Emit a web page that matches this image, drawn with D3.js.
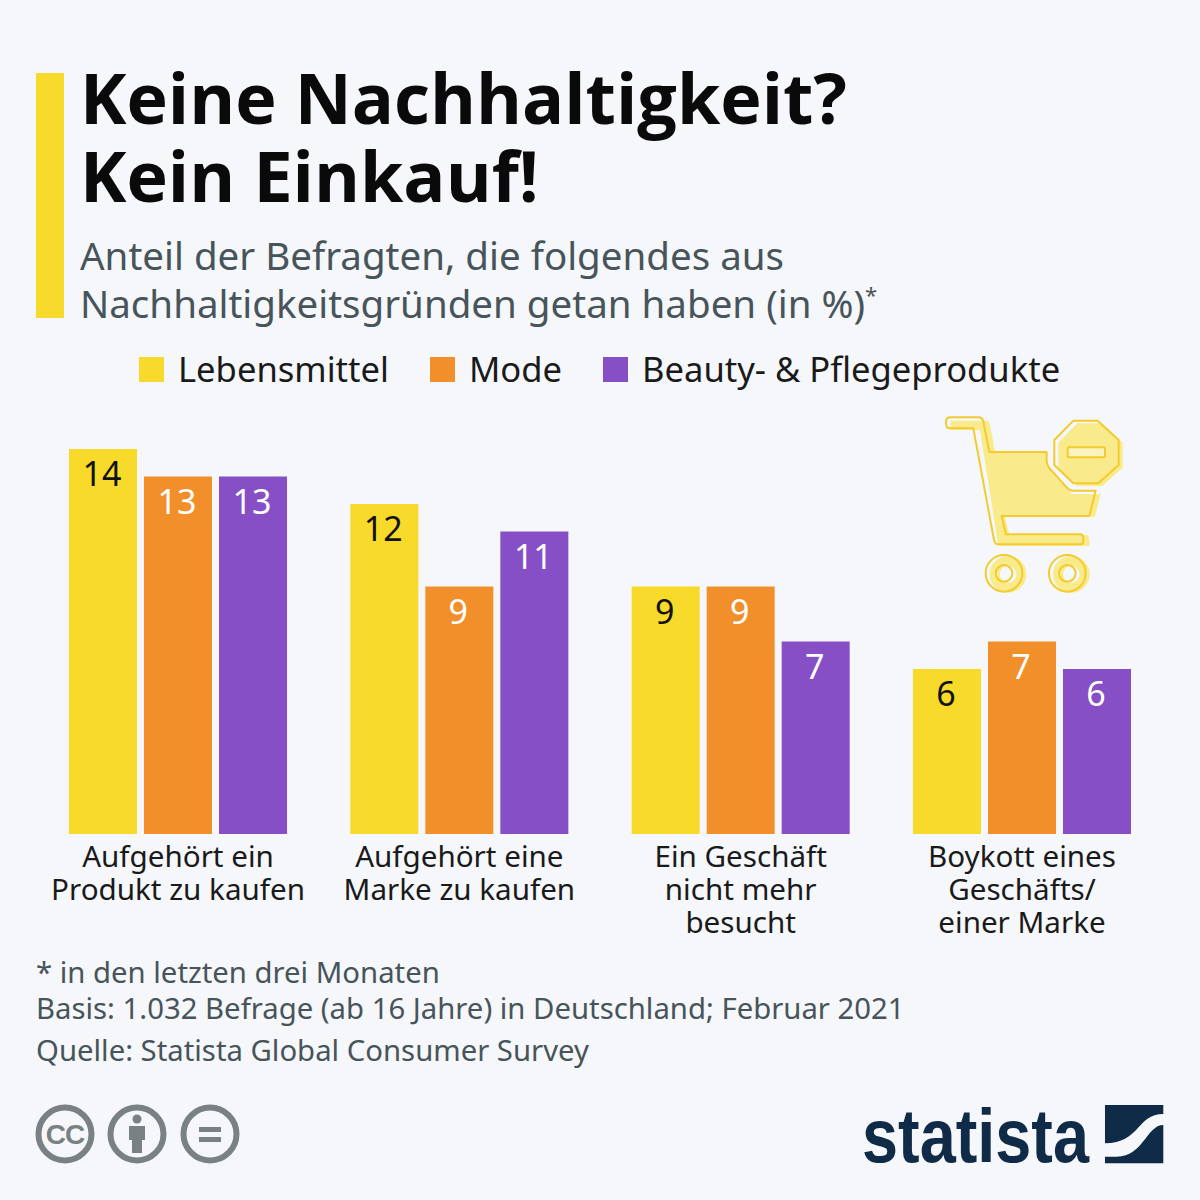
<!DOCTYPE html>
<html lang="de">
<head>
<meta charset="utf-8">
<title>Keine Nachhaltigkeit? Kein Einkauf!</title>
<script src="https://cdn.jsdelivr.net/npm/d3@7"></script>
<style>
  html, body { margin: 0; padding: 0; background: #f5f7fa; }
  svg { display: block; font-family: "Noto Sans", "Open Sans", sans-serif; }
</style>
</head>
<body>
<div id="chart"></div>
<script>
// Data
const categories = [
  "Aufgehört ein|Produkt zu kaufen",
  "Aufgehört eine|Marke zu kaufen",
  "Ein Geschäft|nicht mehr|besucht",
  "Boykott eines|Geschäfts/|einer Marke"
];
const seriesNames = ["Lebensmittel", "Mode", "Beauty- & Pflegeprodukte"];
const lebensmittel = [14, 12, 9, 6];
const mode = [13, 9, 9, 7];
const beauty = [13, 11, 7, 6];
const seriesColors = ["#f8da2b", "#f18f2a", "#864fc6"];
const valueColors = ["#111111", "#ffffff", "#ffffff"];
const legendX = [139, 430, 603];

const titleLines = ["Keine Nachhaltigkeit?", "Kein Einkauf!"];
const footerLines = [
  "* in den letzten drei Monaten",
  "Basis: 1.032 Befrage (ab 16 Jahre) in Deutschland; Februar 2021",
  "Quelle: Statista Global Consumer Survey"
];

const width = 1200, height = 1200;
const bg = "#f5f7fa", greyText = "#47545a", iconGrey = "#7a8183", navy = "#0f2b47";
const allSeries = [lebensmittel, mode, beauty];

const svg = d3.select("#chart").append("svg")
  .attr("width", width).attr("height", height)
  .attr("viewBox", [0, 0, width, height]);

svg.append("rect").attr("width", width).attr("height", height).attr("fill", bg);

// Header
svg.append("rect").attr("x", 36).attr("y", 73).attr("width", 28).attr("height", 245).attr("fill", seriesColors[0]);

svg.selectAll("text.title").data(titleLines).enter().append("text")
  .attr("class", "title")
  .attr("x", 80).attr("y", (d, i) => 124 + i * 78)
  .attr("font-family", "'Open Sans', sans-serif")
  .attr("font-size", 70).attr("font-weight", 700).attr("fill", "#0a0a0a")
  .text(d => d);

svg.append("text").attr("x", 80).attr("y", 270)
  .attr("font-size", 38.5).attr("fill", greyText)
  .text("Anteil der Befragten, die folgendes aus");
const sub2 = svg.append("text").attr("x", 80).attr("y", 318)
  .attr("font-size", 38.5).attr("fill", greyText)
  .text("Nachhaltigkeitsgründen getan haben (in %)");
sub2.append("tspan").attr("font-size", 22).attr("dy", -15).text("*");

// Legend
const legend = svg.selectAll("g.legend").data(seriesNames).enter().append("g")
  .attr("class", "legend")
  .attr("transform", (d, i) => `translate(${legendX[i]},357)`);
legend.append("rect").attr("width", 25).attr("height", 25).attr("fill", (d, i) => seriesColors[i]);
legend.append("text").attr("x", 39).attr("y", 25)
  .attr("font-size", 34.6).attr("fill", "#1a1a1a").text(d => d);

// Scales
const x0 = d3.scaleBand().domain(categories).range([69, 1131]).paddingInner(0.225).paddingOuter(0);
const x1 = d3.scaleBand().domain(seriesNames).range([0, x0.bandwidth()]).paddingInner(0.0933).paddingOuter(0);
const y = d3.scaleLinear().domain([0, 14]).range([834, 449]);

// Bars
const group = svg.selectAll("g.group").data(categories).enter().append("g")
  .attr("class", "group")
  .attr("transform", d => `translate(${x0(d)},0)`);

const cells = group.selectAll("g.cell")
  .data((d, gi) => seriesNames.map((name, si) => ({ name, si, value: allSeries[si][gi] })))
  .enter().append("g").attr("class", "cell");

cells.append("rect")
  .attr("x", d => x1(d.name))
  .attr("y", d => y(d.value))
  .attr("width", x1.bandwidth())
  .attr("height", d => y(0) - y(d.value))
  .attr("fill", d => seriesColors[d.si]);

cells.append("text")
  .attr("x", d => x1(d.name) + x1.bandwidth() / 2 - 1)
  .attr("y", d => y(d.value) + 37)
  .attr("text-anchor", "middle")
  .attr("font-size", 34)
  .attr("fill", d => valueColors[d.si])
  .text(d => d.value);

// Category axis
const axis = svg.append("g").attr("transform", `translate(0,${y(0)})`)
  .call(d3.axisBottom(x0).tickSize(0));
axis.select(".domain").remove();
axis.selectAll(".tick text").each(function (d) {
  const t = d3.select(this).text(null)
    .attr("y", 0).attr("dy", null)
    .attr("font-family", "'Noto Sans', sans-serif")
    .attr("font-size", 29.6).attr("fill", "#1a1a1a");
  d.split("|").forEach((line, i) => {
    t.append("tspan").attr("x", 0).attr("y", 33 + i * 33).text(line);
  });
});

// Footer
const footerY = [983, 1019, 1061];
svg.selectAll("text.footer").data(footerLines).enter().append("text")
  .attr("class", "footer")
  .attr("x", 36).attr("y", (d, i) => footerY[i])
  .attr("font-size", 29.3).attr("fill", greyText)
  .text(d => d);

// Cart icon, drawn in the 3x units it was measured in
const cart = svg.append("g").attr("transform", "translate(930,400) scale(0.3333)");
const paleFill = "#f9eb8b", cartLine = "#f3cb2e";
cart.append("path").attr("fill", paleFill)
  .attr("d", "M62,62 H165 Q178,62 180,75 L195,155 H350 V190 L425,282 H512 L495,350 H225 L238,405 H470 Q478,408 478,420 V438 H205 L150,90 H62 Z");
cart.append("path").attr("fill", paleFill)
  .attr("d", "M442,70 H515 L578,128 V203 L517,258 H442 L385,203 V128 Z");
[222, 412].forEach(cx => {
  // pale ring sits shifted right of its outline, the hole stays background
  cart.append("circle").attr("cx", cx + 12).attr("cy", 523).attr("r", 40)
    .attr("fill", "none").attr("stroke", paleFill).attr("stroke-width", 30);
  cart.append("circle").attr("cx", cx).attr("cy", 520).attr("r", 55).attr("fill", "none").attr("stroke", cartLine).attr("stroke-width", 6);
  cart.append("circle").attr("cx", cx).attr("cy", 520).attr("r", 25).attr("fill", "none").attr("stroke", cartLine).attr("stroke-width", 6);
});
cart.append("path").attr("fill", "none").attr("stroke", cartLine).attr("stroke-width", 6).attr("stroke-linejoin", "round")
  .attr("d", "M60,52 H145 Q157,52 160,65 L178,156 H350 V185 Q352,200 365,212 L410,262 Q418,272 430,272 H497 L478,348 H215 L228,403 H450 Q460,403 460,415 V425 Q460,433 450,433 H205 Q195,433 192,420 L130,85 H60 Q48,85 48,68 Q48,52 60,52 Z");
cart.append("path").attr("fill", "none").attr("stroke", cartLine).attr("stroke-width", 6).attr("stroke-linejoin", "round")
  .attr("d", "M430,62 H503 L566,120 V195 L505,250 H430 L373,195 V120 Z");
cart.append("rect").attr("x", 413).attr("y", 142).attr("width", 112).attr("height", 30).attr("rx", 5)
  .attr("fill", "#fbf3bd").attr("stroke", cartLine).attr("stroke-width", 6);

// Licence icons
const icons = svg.selectAll("g.licence").data([65, 137, 210]).enter().append("g")
  .attr("class", "licence")
  .attr("transform", d => `translate(${d},1134)`);
icons.append("circle").attr("r", 26.5).attr("fill", "none").attr("stroke", iconGrey).attr("stroke-width", 6);
d3.select(icons.nodes()[0]).append("text")
  .attr("text-anchor", "middle").attr("y", 10)
  .attr("font-family", "'Liberation Sans', sans-serif").attr("font-weight", 700)
  .attr("font-size", 28).attr("letter-spacing", -1).attr("fill", iconGrey).text("CC");
const person = d3.select(icons.nodes()[1]);
person.append("circle").attr("cy", -15).attr("r", 4.5).attr("fill", iconGrey);
person.append("path").attr("fill", iconGrey).attr("d", "M-8,-8 H8 V6 H5 V19 H-5 V6 H-8 Z");
const equal = d3.select(icons.nodes()[2]);
equal.append("rect").attr("x", -11).attr("y", -7).attr("width", 22).attr("height", 5).attr("fill", iconGrey);
equal.append("rect").attr("x", -11).attr("y", 3).attr("width", 22).attr("height", 5).attr("fill", iconGrey);

// Statista logo
svg.append("text").attr("x", 862).attr("y", 1162)
  .attr("font-family", "'Liberation Sans Narrow', 'Liberation Sans', sans-serif")
  .attr("font-weight", 700).attr("font-size", 76).attr("fill", navy)
  .attr("textLength", 227).attr("lengthAdjust", "spacingAndGlyphs")
  .text("statista");
const logo = svg.append("g").attr("transform", "translate(850,1090) scale(0.3333)").attr("fill", navy);
logo.append("path").attr("d", "M765,45 H940 V72 C860,72 870,160 765,160 Z");
logo.append("path").attr("d", "M940,105 C890,105 880,200 800,200 L765,200 V220 H940 Z");
</script>
</body>
</html>
